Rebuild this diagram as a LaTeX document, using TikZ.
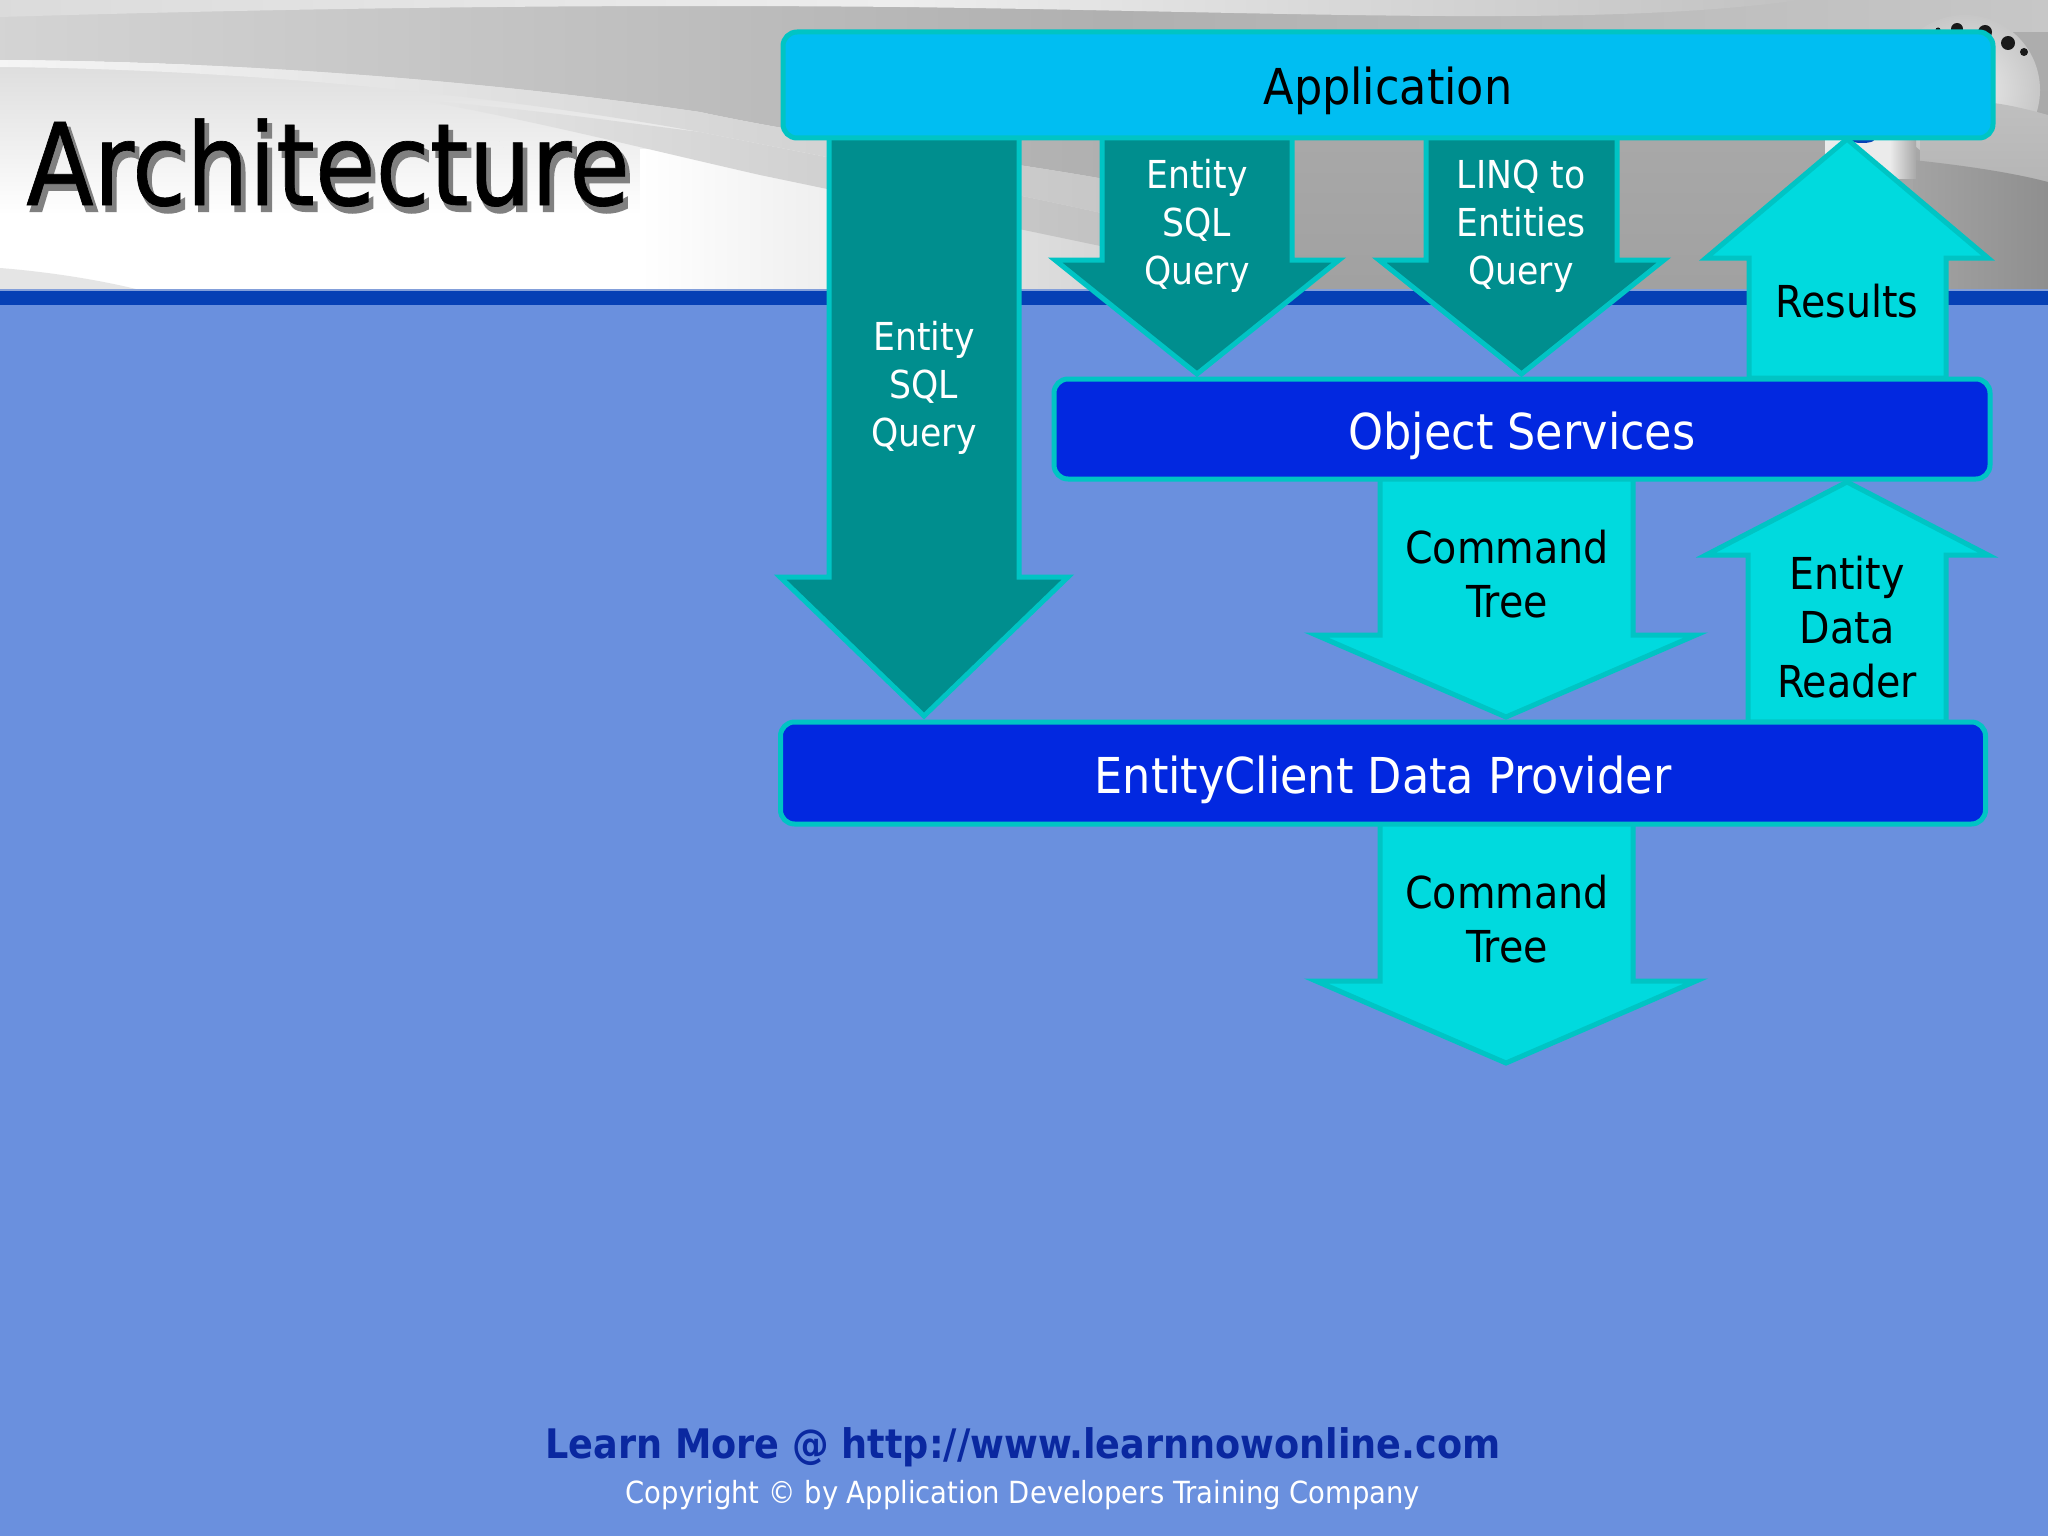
\documentclass[tikz,border=0pt]{standalone}
\usepackage{fontspec}
\setmainfont{DejaVu Sans Condensed}
\newfontfamily\titlefont{DejaVu Sans Condensed}[FakeStretch=0.962,FakeBold=0.6]
\newfontfamily\titleshadow{DejaVu Sans Condensed}[FakeStretch=0.962,FakeBold=2]
\definecolor{bgblue}{HTML}{6A90DE}
\definecolor{barblue}{HTML}{0640B5}
\definecolor{edgec}{HTML}{00C4C4}
\definecolor{appc}{HTML}{00BEF2}
\definecolor{darkc}{HTML}{008E8E}
\definecolor{lightc}{HTML}{00DADE}
\definecolor{provc}{HTML}{0228E0}
\definecolor{footc}{HTML}{0A28A0}
\tikzset{
  block/.style={draw=edgec,line width=5pt,rounded corners=14pt,line join=round,text height=40pt,text depth=0pt,font=\fontsize{49.5}{60}\selectfont},
  arrowd/.style={draw=edgec,line width=5pt,fill=darkc,line join=miter},
  arrowl/.style={draw=edgec,line width=5pt,fill=lightc,line join=miter},
  lbl/.style={align=center,inner sep=0pt},
  small/.style={lbl,text=white,font=\fontsize{38.5}{48}\selectfont},
  med/.style={lbl,text=black,font=\fontsize{44}{54}\selectfont}
}
% x1 x2 shaft, hx1 hx2 head, base, wing, tip, style
\newcommand\vertarrow[8]{\path[#8] (#1,#5) -- (#1,#6) -- (#3,#6) -- ({(#3+#4)/2},#7) -- (#4,#6) -- (#2,#6) -- (#2,#5) -- cycle;}
\newcommand\shadowcopy[4]{\rlap{\hspace{#1pt}\raisebox{-#2pt}{\titleshadow\fontsize{114}{114}\selectfont\textcolor{black!#3}{#4}}}}
\begin{document}
\begin{tikzpicture}[x=1pt,y=-1pt]
\useasboundingbox (0,0) rectangle (2048,1536);
\fill[bgblue] (0,0) rectangle (2048,1536);
% header
\begin{scope}
\clip (0,0) rectangle (2048,292);
\fill[white] (0,0) rectangle (1110,292);
% soft gray beneath the white swoosh
\shade[top color=black!13,bottom color=white] (0,66) -- (1110,66) -- (1110,215) -- (0,215) -- cycle;
\fill[white] (0,215) rectangle (1110,292);
\shade[left color=white,right color=black!16] (640,150) -- (1110,150) -- (1110,292) -- (640,292) -- cycle;
% gray stripe beneath swoosh
\shade[left color=black!10,right color=black!24] (420,100) .. controls (540,110) and (620,122) .. (700,132) .. controls (840,160) and (1000,190) .. (1110,215) -- (1110,248) .. controls (1000,225) and (880,200) .. (760,175) .. controls (650,150) and (540,122) .. (420,100) -- cycle;
% upper gray
\shade[left color=black!17,right color=black!31] (0,0) -- (1110,0) -- (1110,180) .. controls (1000,160) and (830,140) .. (700,112) .. controls (550,90) and (300,62) .. (0,60) -- cycle;
% swoosh
\shade[left color=black!4,middle color=black!6,right color=black!22] (0,60) .. controls (300,62) and (550,90) .. (700,112) .. controls (830,140) and (1000,160) .. (1110,180) -- (1110,215) .. controls (1000,190) and (840,160) .. (700,132) .. controls (550,105) and (300,70) .. (0,67) -- cycle;
\fill[black!10] (0,268) .. controls (50,272) and (100,280) .. (140,290) -- (0,290) -- cycle;
% right gray
\shade[top color=black!32,bottom color=black!37] (1110,31) rectangle (2048,292);
\shade[left color=black!31,right color=black!22] (1110,0) rectangle (2048,32);
% top band
\shade[left color=black!14,right color=black!7] (0,0) -- (900,0) -- (900,7) .. controls (600,4) and (300,8) .. (0,17) -- cycle;
\shade[left color=black!7,right color=black!24] (900,0) -- (1800,0) .. controls (1600,28) and (1300,12) .. (900,7) -- cycle;
% round patch at top right
\shade[inner color=black!7,outer color=black!22] (1965,90) circle (75);
\shade[top color=black!25,bottom color=black!34] (1993,103) .. controls (2010,105) and (2030,110) .. (2048,115) -- (2048,292) -- (1920,292) -- (1920,120) -- cycle;
\shade[left color=black!36,right color=black!44] (1913,160) .. controls (1960,165) and (2010,172) .. (2048,182) -- (2048,292) -- (1913,292) -- cycle;
\fill[black!8] (1825,135) rectangle (1890,178);
\shade[left color=black!8,right color=black!34] (1890,135) rectangle (1916,178);
\fill[barblue] (1862,140) ellipse (12 and 3);
\fill[black!90] (1938,30) circle (2.5) (1957,29) circle (6) (1985,32) circle (7) (2008,43) circle (7) (2024,52) circle (4);
\end{scope}
\fill[barblue] (0,290) rectangle (2048,305);
\fill[white!50!barblue] (0,289) rectangle (2048,291);
% title with its shadow
\node[lbl,anchor=base west,text=black,font=\titlefont\fontsize{114}{114}\selectfont] (title) at (26,205) {\shadowcopy{4}{6}{50}{Architecture}Architecture};
% arrows
\vertarrow{829}{1019}{780}{1068}{136}{577}{716}{arrowd}
\vertarrow{1102}{1292}{1055}{1339}{136}{260}{374}{arrowd}
\vertarrow{1426}{1617}{1379}{1664}{136}{260}{374}{arrowd}
\vertarrow{1749}{1946}{1706}{1988}{378}{258}{139}{arrowl}
\vertarrow{1380}{1633}{1316}{1696}{476}{635}{717}{arrowl}
\vertarrow{1748}{1946}{1706}{1988}{722}{555}{482}{arrowl}
\vertarrow{1380}{1633}{1316}{1696}{822}{981}{1063}{arrowl}
% blocks
\node[block,fill=appc,minimum width=1210pt,minimum height=106pt,text=black] (app) at (1388,85) {Application};
\node[block,fill=provc,minimum width=936pt,minimum height=100pt,text=white] (obj) at (1522,429) {Object Services};
\node[block,fill=provc,minimum width=1205pt,minimum height=102pt,text=white] (ecl) at (1383,773) {EntityClient Data Provider};
% arrow labels
\node[small] (q1) at (924,388) {Entity\\SQL\\Query};
\node[small] (q2) at (1197,226) {Entity\\SQL\\Query};
\node[small] (q3) at (1521,226) {LINQ to\\Entities\\Query};
\node[med] (res) at (1847,301) {Results};
\node[med] (ct1) at (1507,574) {Command\\Tree};
\node[med] (edr) at (1847,627) {Entity\\Data\\Reader};
\node[med] (ct2) at (1507,919) {Command\\Tree};
% footer
\node[lbl,text=footc,font=\bfseries\fontsize{40.7}{48}\selectfont] (learn) at (1023,1447) {Learn More @ http://www.learnnowonline.com};
\node[lbl,text=white,font=\fontsize{30.5}{38}\selectfont] (copy) at (1023,1495) {Copyright © by Application Developers Training Company};
\end{tikzpicture}
\end{document}
